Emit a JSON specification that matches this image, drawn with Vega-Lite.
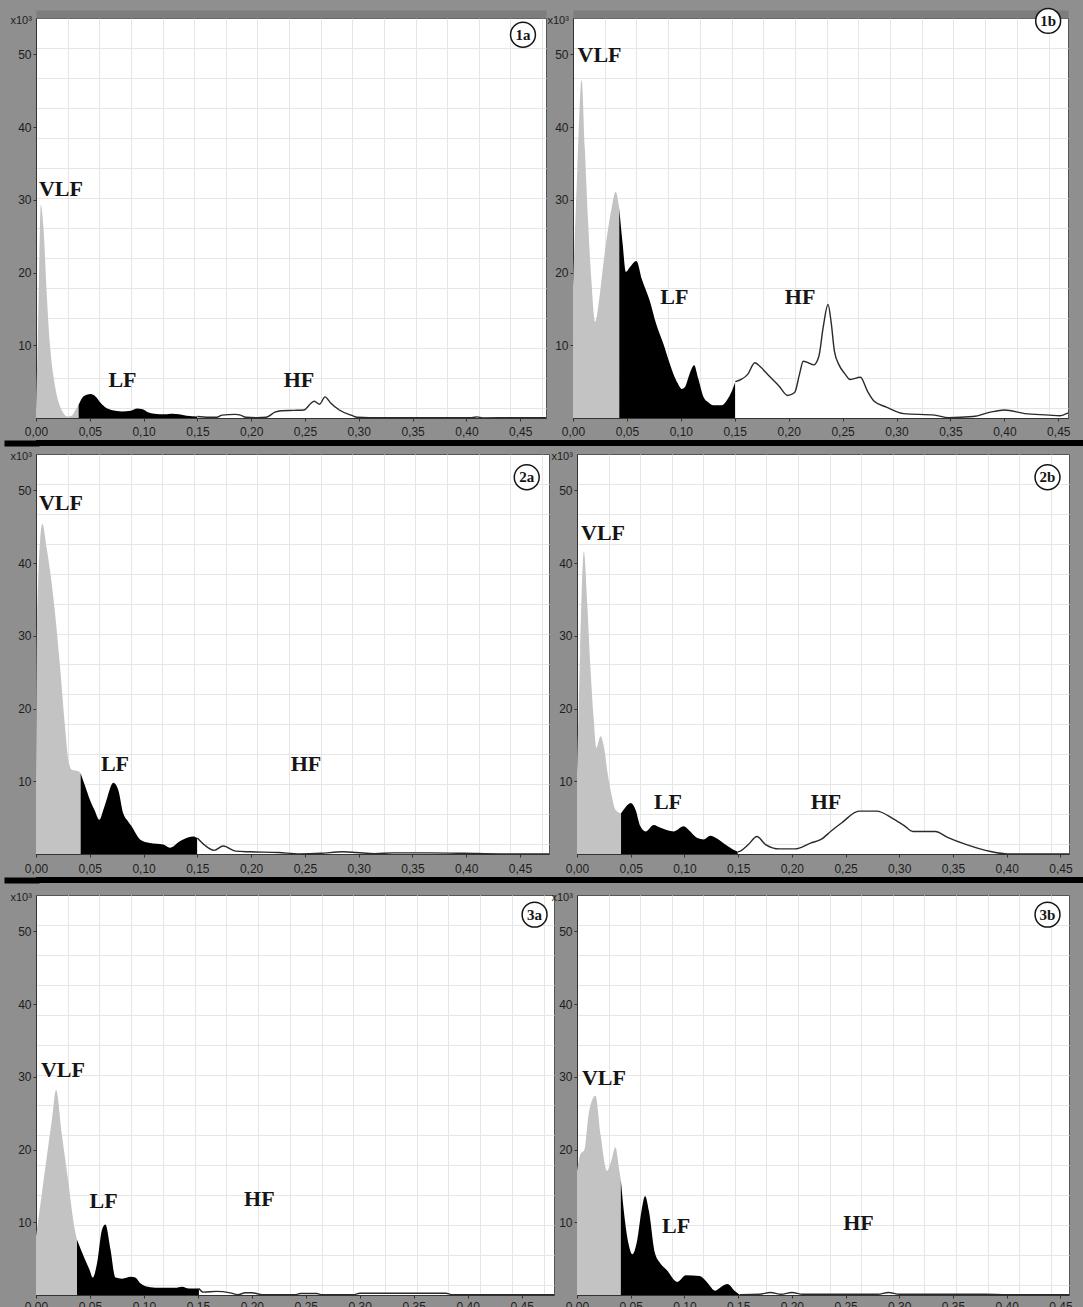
{
  "$schema": "https://vega.github.io/schema/vega-lite/v6.json",
  "background": "#8f8f8f",
  "padding": {"top": 4, "left": 0, "right": 0, "bottom": 0},
  "config": {
    "view": {"fill": "#ffffff", "stroke": "#555555", "strokeWidth": 1},
    "axis": {"labelFont": "Liberation Sans", "titleFont": "Liberation Sans"}
  },
  "datasets": {
    "p1a": [
      {"b":"VLF","f":0,"v":1},{"b":"VLF","f":0.002,"v":13},{"b":"VLF","f":0.0045,"v":29.3},{"b":"VLF","f":0.007,"v":26},{"b":"VLF","f":0.01,"v":17},{"b":"VLF","f":0.013,"v":10},{"b":"VLF","f":0.017,"v":5},{"b":"VLF","f":0.021,"v":2.2},{"b":"VLF","f":0.025,"v":0.8},{"b":"VLF","f":0.029,"v":0.2},{"b":"VLF","f":0.033,"v":0.3},{"b":"VLF","f":0.037,"v":1.2},{"b":"VLF","f":0.0396,"v":1.8},
      {"b":"LF","f":0.0396,"v":1.8},{"b":"LF","f":0.043,"v":2.8},{"b":"LF","f":0.047,"v":3.2},{"b":"LF","f":0.051,"v":3.3},{"b":"LF","f":0.055,"v":3.0},{"b":"LF","f":0.06,"v":2.1},{"b":"LF","f":0.065,"v":1.4},{"b":"LF","f":0.07,"v":1.1},{"b":"LF","f":0.08,"v":0.9},{"b":"LF","f":0.088,"v":1.0},{"b":"LF","f":0.094,"v":1.3},{"b":"LF","f":0.099,"v":1.2},{"b":"LF","f":0.104,"v":0.8},{"b":"LF","f":0.11,"v":0.6},{"b":"LF","f":0.12,"v":0.5},{"b":"LF","f":0.127,"v":0.6},{"b":"LF","f":0.133,"v":0.5},{"b":"LF","f":0.14,"v":0.3},{"b":"LF","f":0.15,"v":0.2},
      {"b":"HF","f":0.15,"v":0.2},{"b":"HF","f":0.16,"v":0.1},{"b":"HF","f":0.168,"v":0.1},{"b":"HF","f":0.173,"v":0.4},{"b":"HF","f":0.185,"v":0.5},{"b":"HF","f":0.19,"v":0.4},{"b":"HF","f":0.195,"v":0.1},{"b":"HF","f":0.205,"v":0.05},{"b":"HF","f":0.214,"v":0.1},{"b":"HF","f":0.222,"v":0.8},{"b":"HF","f":0.228,"v":1.0},{"b":"HF","f":0.24,"v":1.05},{"b":"HF","f":0.249,"v":1.1},{"b":"HF","f":0.2553,"v":2.0},{"b":"HF","f":0.2586,"v":2.3},{"b":"HF","f":0.2636,"v":1.9},{"b":"HF","f":0.2686,"v":2.9},{"b":"HF","f":0.2736,"v":2.1},{"b":"HF","f":0.2819,"v":1.1},{"b":"HF","f":0.2935,"v":0.35},{"b":"HF","f":0.2985,"v":0.1},{"b":"HF","f":0.31,"v":0.05},{"b":"HF","f":0.35,"v":0.05},{"b":"HF","f":0.38,"v":0.05},{"b":"HF","f":0.405,"v":0.05},{"b":"HF","f":0.41,"v":0.15},{"b":"HF","f":0.415,"v":0.02},{"b":"HF","f":0.44,"v":0.05},{"b":"HF","f":0.474,"v":0.05}
    ],
    "p1b": [
      {"b":"VLF","f":0,"v":18},{"b":"VLF","f":0.004,"v":34},{"b":"VLF","f":0.008,"v":46.5},{"b":"VLF","f":0.011,"v":37},{"b":"VLF","f":0.014,"v":27},{"b":"VLF","f":0.017,"v":19},{"b":"VLF","f":0.0205,"v":13.2},{"b":"VLF","f":0.024,"v":16},{"b":"VLF","f":0.028,"v":21},{"b":"VLF","f":0.032,"v":25.5},{"b":"VLF","f":0.036,"v":29},{"b":"VLF","f":0.0395,"v":31.1},{"b":"VLF","f":0.0429,"v":28.8},
      {"b":"LF","f":0.0429,"v":28.8},{"b":"LF","f":0.046,"v":24},{"b":"LF","f":0.049,"v":20.1},{"b":"LF","f":0.053,"v":20.8},{"b":"LF","f":0.0588,"v":21.6},{"b":"LF","f":0.064,"v":19},{"b":"LF","f":0.071,"v":16.2},{"b":"LF","f":0.077,"v":13},{"b":"LF","f":0.0838,"v":10.2},{"b":"LF","f":0.089,"v":7.8},{"b":"LF","f":0.093,"v":6.1},{"b":"LF","f":0.097,"v":4.8},{"b":"LF","f":0.1008,"v":4.0},{"b":"LF","f":0.104,"v":4.3},{"b":"LF","f":0.108,"v":6.0},{"b":"LF","f":0.1123,"v":7.25},{"b":"LF","f":0.116,"v":5.5},{"b":"LF","f":0.121,"v":2.9},{"b":"LF","f":0.126,"v":2.1},{"b":"LF","f":0.13,"v":1.75},{"b":"LF","f":0.138,"v":1.75},{"b":"LF","f":0.143,"v":2.5},{"b":"LF","f":0.147,"v":3.6},{"b":"LF","f":0.1505,"v":5.0},
      {"b":"HF","f":0.1505,"v":5.0},{"b":"HF","f":0.156,"v":5.3},{"b":"HF","f":0.162,"v":6.0},{"b":"HF","f":0.1686,"v":7.6},{"b":"HF","f":0.174,"v":7.0},{"b":"HF","f":0.181,"v":5.9},{"b":"HF","f":0.191,"v":4.4},{"b":"HF","f":0.199,"v":3.1},{"b":"HF","f":0.2055,"v":3.5},{"b":"HF","f":0.21,"v":6.0},{"b":"HF","f":0.2135,"v":7.8},{"b":"HF","f":0.218,"v":7.6},{"b":"HF","f":0.2231,"v":7.3},{"b":"HF","f":0.228,"v":8.5},{"b":"HF","f":0.232,"v":12.5},{"b":"HF","f":0.2365,"v":15.6},{"b":"HF","f":0.2395,"v":13},{"b":"HF","f":0.2424,"v":9.2},{"b":"HF","f":0.247,"v":7.2},{"b":"HF","f":0.252,"v":6.1},{"b":"HF","f":0.257,"v":5.3},{"b":"HF","f":0.2665,"v":5.6},{"b":"HF","f":0.273,"v":3.7},{"b":"HF","f":0.2793,"v":2.3},{"b":"HF","f":0.2906,"v":1.5},{"b":"HF","f":0.3067,"v":0.6},{"b":"HF","f":0.3355,"v":0.4},{"b":"HF","f":0.348,"v":0.05},{"b":"HF","f":0.371,"v":0.2},{"b":"HF","f":0.387,"v":0.8},{"b":"HF","f":0.4,"v":1.1},{"b":"HF","f":0.419,"v":0.6},{"b":"HF","f":0.4415,"v":0.4},{"b":"HF","f":0.451,"v":0.3},{"b":"HF","f":0.459,"v":0.7}
    ],
    "p2a": [
      {"b":"VLF","f":0,"v":10},{"b":"VLF","f":0.001,"v":32},{"b":"VLF","f":0.0059,"v":45.4},{"b":"VLF","f":0.01,"v":42},{"b":"VLF","f":0.013,"v":39},{"b":"VLF","f":0.0177,"v":33.1},{"b":"VLF","f":0.0223,"v":25.8},{"b":"VLF","f":0.027,"v":17.5},{"b":"VLF","f":0.03,"v":13},{"b":"VLF","f":0.0332,"v":11.6},{"b":"VLF","f":0.0393,"v":11.4},{"b":"VLF","f":0.0415,"v":11.1},
      {"b":"LF","f":0.0415,"v":11.1},{"b":"LF","f":0.046,"v":9.2},{"b":"LF","f":0.05,"v":7.5},{"b":"LF","f":0.0545,"v":6.0},{"b":"LF","f":0.0589,"v":4.7},{"b":"LF","f":0.0625,"v":6.0},{"b":"LF","f":0.0657,"v":7.5},{"b":"LF","f":0.0719,"v":9.8},{"b":"LF","f":0.0765,"v":8.8},{"b":"LF","f":0.081,"v":5.65},{"b":"LF","f":0.085,"v":4.6},{"b":"LF","f":0.0889,"v":3.8},{"b":"LF","f":0.0967,"v":2.0},{"b":"LF","f":0.106,"v":1.5},{"b":"LF","f":0.1183,"v":1.3},{"b":"LF","f":0.1245,"v":0.85},{"b":"LF","f":0.1338,"v":1.75},{"b":"LF","f":0.142,"v":2.3},{"b":"LF","f":0.146,"v":2.4},{"b":"LF","f":0.15,"v":2.2},
      {"b":"HF","f":0.15,"v":2.2},{"b":"HF","f":0.157,"v":1.2},{"b":"HF","f":0.1657,"v":0.5},{"b":"HF","f":0.174,"v":1.1},{"b":"HF","f":0.1856,"v":0.4},{"b":"HF","f":0.199,"v":0.3},{"b":"HF","f":0.2255,"v":0.2},{"b":"HF","f":0.245,"v":0.02},{"b":"HF","f":0.265,"v":0.1},{"b":"HF","f":0.285,"v":0.3},{"b":"HF","f":0.298,"v":0.2},{"b":"HF","f":0.315,"v":0.05},{"b":"HF","f":0.332,"v":0.15},{"b":"HF","f":0.365,"v":0.15},{"b":"HF","f":0.398,"v":0.1},{"b":"HF","f":0.431,"v":0.02},{"b":"HF","f":0.477,"v":0.02}
    ],
    "p2b": [
      {"b":"VLF","f":0,"v":11},{"b":"VLF","f":0.003,"v":28},{"b":"VLF","f":0.0064,"v":41.6},{"b":"VLF","f":0.0095,"v":34.5},{"b":"VLF","f":0.0126,"v":25.4},{"b":"VLF","f":0.0156,"v":18.5},{"b":"VLF","f":0.018,"v":14.6},{"b":"VLF","f":0.0219,"v":16.2},{"b":"VLF","f":0.025,"v":14.8},{"b":"VLF","f":0.028,"v":11.6},{"b":"VLF","f":0.0318,"v":8.4},{"b":"VLF","f":0.0358,"v":6.1},{"b":"VLF","f":0.041,"v":5.6},
      {"b":"LF","f":0.041,"v":5.6},{"b":"LF","f":0.045,"v":6.4},{"b":"LF","f":0.05,"v":7.0},{"b":"LF","f":0.0545,"v":6.1},{"b":"LF","f":0.059,"v":3.8},{"b":"LF","f":0.0638,"v":3.1},{"b":"LF","f":0.0715,"v":4.0},{"b":"LF","f":0.0778,"v":3.6},{"b":"LF","f":0.0902,"v":3.1},{"b":"LF","f":0.0994,"v":3.8},{"b":"LF","f":0.104,"v":3.3},{"b":"LF","f":0.112,"v":2.2},{"b":"LF","f":0.118,"v":2.0},{"b":"LF","f":0.124,"v":2.5},{"b":"LF","f":0.1306,"v":2.1},{"b":"LF","f":0.138,"v":1.3},{"b":"LF","f":0.1445,"v":0.7},{"b":"LF","f":0.1497,"v":0.3},
      {"b":"HF","f":0.1497,"v":0.3},{"b":"HF","f":0.1514,"v":0.35},{"b":"HF","f":0.1595,"v":1.3},{"b":"HF","f":0.1675,"v":2.4},{"b":"HF","f":0.1755,"v":1.3},{"b":"HF","f":0.1884,"v":0.7},{"b":"HF","f":0.203,"v":0.7},{"b":"HF","f":0.2174,"v":1.5},{"b":"HF","f":0.2272,"v":2.0},{"b":"HF","f":0.2369,"v":3.2},{"b":"HF","f":0.2465,"v":4.3},{"b":"HF","f":0.2626,"v":5.9},{"b":"HF","f":0.2788,"v":5.9},{"b":"HF","f":0.2949,"v":4.8},{"b":"HF","f":0.3046,"v":3.9},{"b":"HF","f":0.3126,"v":3.1},{"b":"HF","f":0.3335,"v":3.1},{"b":"HF","f":0.3449,"v":2.3},{"b":"HF","f":0.3626,"v":1.3},{"b":"HF","f":0.385,"v":0.35},{"b":"HF","f":0.401,"v":0.02},{"b":"HF","f":0.424,"v":0.02},{"b":"HF","f":0.458,"v":0.02}
    ],
    "p3a": [
      {"b":"VLF","f":0,"v":8},{"b":"VLF","f":0.005,"v":13.5},{"b":"VLF","f":0.01,"v":19},{"b":"VLF","f":0.015,"v":24.4},{"b":"VLF","f":0.0186,"v":28.2},{"b":"VLF","f":0.024,"v":22},{"b":"VLF","f":0.03,"v":15.5},{"b":"VLF","f":0.035,"v":9.8},{"b":"VLF","f":0.038,"v":7.6},
      {"b":"LF","f":0.038,"v":7.6},{"b":"LF","f":0.0442,"v":5.3},{"b":"LF","f":0.0495,"v":3.5},{"b":"LF","f":0.0526,"v":2.4},{"b":"LF","f":0.0566,"v":4.4},{"b":"LF","f":0.0612,"v":9.0},{"b":"LF","f":0.0643,"v":9.7},{"b":"LF","f":0.069,"v":6.3},{"b":"LF","f":0.0736,"v":2.4},{"b":"LF","f":0.0798,"v":2.25},{"b":"LF","f":0.088,"v":2.5},{"b":"LF","f":0.092,"v":2.4},{"b":"LF","f":0.0967,"v":1.6},{"b":"LF","f":0.1014,"v":1.2},{"b":"LF","f":0.1107,"v":1.0},{"b":"LF","f":0.129,"v":1.0},{"b":"LF","f":0.1354,"v":1.15},{"b":"LF","f":0.1416,"v":0.9},{"b":"LF","f":0.151,"v":0.9},
      {"b":"HF","f":0.151,"v":0.9},{"b":"HF","f":0.155,"v":0.4},{"b":"HF","f":0.167,"v":0.5},{"b":"HF","f":0.18,"v":0.3},{"b":"HF","f":0.187,"v":0.05},{"b":"HF","f":0.194,"v":0.3},{"b":"HF","f":0.2,"v":0.3},{"b":"HF","f":0.21,"v":0.05},{"b":"HF","f":0.24,"v":0.05},{"b":"HF","f":0.245,"v":0.2},{"b":"HF","f":0.26,"v":0.2},{"b":"HF","f":0.265,"v":0.05},{"b":"HF","f":0.295,"v":0.05},{"b":"HF","f":0.3,"v":0.25},{"b":"HF","f":0.38,"v":0.25},{"b":"HF","f":0.385,"v":0.05},{"b":"HF","f":0.48,"v":0.05}
    ],
    "p3b": [
      {"b":"VLF","f":0,"v":17},{"b":"VLF","f":0.003,"v":19.3},{"b":"VLF","f":0.007,"v":20},{"b":"VLF","f":0.011,"v":25},{"b":"VLF","f":0.0172,"v":27.4},{"b":"VLF","f":0.022,"v":22},{"b":"VLF","f":0.028,"v":17.1},{"b":"VLF","f":0.032,"v":18.5},{"b":"VLF","f":0.0358,"v":20.3},{"b":"VLF","f":0.039,"v":17.5},{"b":"VLF","f":0.0408,"v":15.8},
      {"b":"LF","f":0.0408,"v":15.8},{"b":"LF","f":0.044,"v":11},{"b":"LF","f":0.048,"v":7},{"b":"LF","f":0.0515,"v":5.6},{"b":"LF","f":0.056,"v":7.5},{"b":"LF","f":0.06,"v":11.5},{"b":"LF","f":0.0634,"v":13.6},{"b":"LF","f":0.067,"v":11.5},{"b":"LF","f":0.0725,"v":5.8},{"b":"LF","f":0.0773,"v":4.4},{"b":"LF","f":0.0837,"v":3.4},{"b":"LF","f":0.0934,"v":1.8},{"b":"LF","f":0.1014,"v":2.7},{"b":"LF","f":0.1143,"v":2.6},{"b":"LF","f":0.1208,"v":1.8},{"b":"LF","f":0.1288,"v":0.6},{"b":"LF","f":0.135,"v":1.2},{"b":"LF","f":0.14,"v":1.5},{"b":"LF","f":0.1466,"v":0.6},{"b":"LF","f":0.1514,"v":0.05},
      {"b":"HF","f":0.1514,"v":0.05},{"b":"HF","f":0.17,"v":0.1},{"b":"HF","f":0.18,"v":0.35},{"b":"HF","f":0.19,"v":0.1},{"b":"HF","f":0.2,"v":0.35},{"b":"HF","f":0.21,"v":0.1},{"b":"HF","f":0.25,"v":0.1},{"b":"HF","f":0.28,"v":0.1},{"b":"HF","f":0.29,"v":0.35},{"b":"HF","f":0.3,"v":0.1},{"b":"HF","f":0.38,"v":0.1},{"b":"HF","f":0.4,"v":0.05},{"b":"HF","f":0.458,"v":0.05}
    ],
    "lab": [
      {"p":"1a","k":"band","t":"VLF","x":0.0232,"y":31.5},{"p":"1a","k":"band","t":"LF","x":0.0804,"y":5.2},{"p":"1a","k":"band","t":"HF","x":0.2444,"y":5.2},{"p":"1a","k":"id","t":"1a","x":0.4526,"y":52.7},
      {"p":"1b","k":"band","t":"VLF","x":0.0246,"y":49.9},{"p":"1b","k":"band","t":"LF","x":0.094,"y":16.7},{"p":"1b","k":"band","t":"HF","x":0.2106,"y":16.7},{"p":"1b","k":"id","t":"1b","x":0.4406,"y":54.6},
      {"p":"2a","k":"band","t":"VLF","x":0.0232,"y":48.2},{"p":"2a","k":"band","t":"LF","x":0.0734,"y":12.4},{"p":"2a","k":"band","t":"HF","x":0.251,"y":12.4},{"p":"2a","k":"id","t":"2a","x":0.4563,"y":51.8},
      {"p":"2b","k":"band","t":"VLF","x":0.0242,"y":44.1},{"p":"2b","k":"band","t":"LF","x":0.0847,"y":7.2},{"p":"2b","k":"band","t":"HF","x":0.2318,"y":7.2},{"p":"2b","k":"id","t":"2b","x":0.438,"y":51.8},
      {"p":"3a","k":"band","t":"VLF","x":0.025,"y":31},{"p":"3a","k":"band","t":"LF","x":0.0626,"y":12.9},{"p":"3a","k":"band","t":"HF","x":0.207,"y":13.2},{"p":"3a","k":"id","t":"3a","x":0.462,"y":52.3},
      {"p":"3b","k":"band","t":"VLF","x":0.0251,"y":29.9},{"p":"3b","k":"band","t":"LF","x":0.0922,"y":9.5},{"p":"3b","k":"band","t":"HF","x":0.262,"y":9.9},{"p":"3b","k":"id","t":"3b","x":0.438,"y":52.3}
    ]
  },
  "columns": 1,
  "align": "none",
  "spacing": 0,
  "concat": [
    {
      "hconcat": [
        {
          "width": 510, "height": 400, "data": {"name": "p1a"},
          "resolve": {"axis": {"x": "independent", "y": "independent"}},
          "layer": [
            {"transform": [{"filter": "datum.b === 'VLF'"}], "mark": {"type": "area", "color": "#c3c3c3", "interpolate": "monotone"},
             "encoding": {"x": {"field": "f", "type": "quantitative", "scale": {"domain": [0, 0.474], "nice": false, "zero": false}, "axis": {"orient": "bottom", "values": [0.0294,0.0588,0.0882,0.1176,0.147,0.1764,0.2058,0.2352,0.2646,0.294,0.3234,0.3528,0.3822,0.4116,0.441,0.4704], "grid": true, "gridColor": "#e6e6e6", "labels": false, "ticks": false, "domain": false, "title": null}},
                          "y": {"field": "v", "type": "quantitative", "scale": {"domain": [0, 55], "nice": false}, "axis": {"orient": "left", "values": [1.375,5.5,9.625,13.75,17.875,22,26.125,30.25,34.375,38.5,42.625,46.75,50.875], "grid": true, "gridColor": "#e6e6e6", "labels": false, "ticks": false, "domain": false, "title": ".", "titleColor": "#8f8f8f", "titleX": -35, "titleY": -10, "titleAngle": 0, "titleAlign": "left", "titleBaseline": "top", "titleFontSize": 6}}}},
            {"transform": [{"filter": "datum.b === 'LF'"}], "mark": {"type": "area", "color": "#000000", "interpolate": "monotone"},
             "encoding": {"x": {"field": "f", "type": "quantitative", "scale": {"domain": [0, 0.474], "nice": false, "zero": false}, "axis": {"orient": "bottom", "values": [0,0.05,0.1,0.15,0.2,0.25,0.3,0.35,0.4,0.45], "labelExpr": "replace(format(datum.value, '.2f'), '.', ',')", "title": null, "grid": false, "domainColor": "#333333", "tickSize": 3, "tickColor": "#333333", "labelPadding": 5, "labelFontSize": 12, "labelColor": "#1e1e1e", "labelFlush": false, "labelOverlap": false}},
                          "y": {"field": "v", "type": "quantitative", "scale": {"domain": [0, 55], "nice": false}, "axis": {"orient": "left", "values": [10,20,30,40,50], "title": "x10³", "titleAngle": 0, "titleAlign": "left", "titleBaseline": "alphabetic", "titleX": -26, "titleY": 5, "titleFontSize": 11, "titleFontWeight": "normal", "titleColor": "#1e1e1e", "grid": false, "domainColor": "#333333", "tickSize": 3, "tickColor": "#333333", "labelPadding": 2, "labelFontSize": 12, "labelColor": "#1e1e1e"}}}},
            {"transform": [{"filter": "datum.b === 'HF'"}], "mark": {"type": "area", "color": "#ffffff", "interpolate": "monotone"},
             "encoding": {"x": {"field": "f", "type": "quantitative", "scale": {"domain": [0, 0.474], "nice": false, "zero": false}, "axis": {"orient": "top", "grid": false, "labels": false, "ticks": false, "domain": true, "domainColor": "#7d7d7d", "domainWidth": 8, "offset": 4, "title": null}},
                          "y": {"field": "v", "type": "quantitative", "scale": {"domain": [0, 55], "nice": false}, "axis": null}}},
            {"transform": [{"filter": "datum.b === 'HF'"}], "mark": {"type": "line", "color": "#2a2a2a", "strokeWidth": 1.4, "interpolate": "monotone"},
             "encoding": {"x": {"field": "f", "type": "quantitative", "scale": {"domain": [0, 0.474], "nice": false, "zero": false}, "axis": null},
                          "y": {"field": "v", "type": "quantitative", "scale": {"domain": [0, 55], "nice": false}, "axis": null}}},
            {"data": {"name": "lab"}, "transform": [{"filter": "datum.p === '1a' && datum.k === 'band'"}], "mark": {"type": "text", "font": "Liberation Serif", "fontWeight": "bold", "fontSize": 22, "color": "#151515", "align": "center", "baseline": "middle"},
             "encoding": {"x": {"field": "x", "type": "quantitative", "scale": {"domain": [0, 0.474], "nice": false, "zero": false}, "axis": null}, "y": {"field": "y", "type": "quantitative", "scale": {"domain": [0, 55], "nice": false}, "axis": null}, "text": {"field": "t"}}},
            {"data": {"name": "lab"}, "transform": [{"filter": "datum.p === '1a' && datum.k === 'id'"}], "mark": {"type": "point", "shape": "circle", "size": 620, "filled": true, "fill": "#ffffff", "stroke": "#151515", "strokeWidth": 1.5, "opacity": 1},
             "encoding": {"x": {"field": "x", "type": "quantitative", "scale": {"domain": [0, 0.474], "nice": false, "zero": false}, "axis": null}, "y": {"field": "y", "type": "quantitative", "scale": {"domain": [0, 55], "nice": false}, "axis": null}}},
            {"data": {"name": "lab"}, "transform": [{"filter": "datum.p === '1a' && datum.k === 'id'"}], "mark": {"type": "text", "font": "Liberation Serif", "fontWeight": "bold", "fontSize": 15, "color": "#151515", "align": "center", "baseline": "middle"},
             "encoding": {"x": {"field": "x", "type": "quantitative", "scale": {"domain": [0, 0.474], "nice": false, "zero": false}, "axis": null}, "y": {"field": "y", "type": "quantitative", "scale": {"domain": [0, 55], "nice": false}, "axis": null}, "text": {"field": "t"}}}
          ]
        },
        {
          "width": 495, "height": 400, "data": {"name": "p1b"},
          "resolve": {"axis": {"x": "independent", "y": "independent"}},
          "layer": [
            {"transform": [{"filter": "datum.b === 'VLF'"}], "mark": {"type": "area", "color": "#c3c3c3", "interpolate": "monotone"},
             "encoding": {"x": {"field": "f", "type": "quantitative", "scale": {"domain": [0, 0.459], "nice": false, "zero": false}, "axis": {"orient": "bottom", "values": [0.0294,0.0588,0.0882,0.1176,0.147,0.1764,0.2058,0.2352,0.2646,0.294,0.3234,0.3528,0.3822,0.4116,0.441], "grid": true, "gridColor": "#e6e6e6", "labels": false, "ticks": false, "domain": false, "title": null}},
                          "y": {"field": "v", "type": "quantitative", "scale": {"domain": [0, 55], "nice": false}, "axis": {"orient": "left", "values": [1.375,5.5,9.625,13.75,17.875,22,26.125,30.25,34.375,38.5,42.625,46.75,50.875], "grid": true, "gridColor": "#e6e6e6", "labels": false, "ticks": false, "domain": false, "title": null}}}},
            {"transform": [{"filter": "datum.b === 'LF'"}], "mark": {"type": "area", "color": "#000000", "interpolate": "monotone"},
             "encoding": {"x": {"field": "f", "type": "quantitative", "scale": {"domain": [0, 0.459], "nice": false, "zero": false}, "axis": {"orient": "bottom", "values": [0,0.05,0.1,0.15,0.2,0.25,0.3,0.35,0.4,0.45], "labelExpr": "replace(format(datum.value, '.2f'), '.', ',')", "title": null, "grid": false, "domainColor": "#333333", "tickSize": 3, "tickColor": "#333333", "labelPadding": 5, "labelFontSize": 12, "labelColor": "#1e1e1e", "labelFlush": false, "labelOverlap": false}},
                          "y": {"field": "v", "type": "quantitative", "scale": {"domain": [0, 55], "nice": false}, "axis": {"orient": "left", "values": [10,20,30,40,50], "title": "x10³", "titleAngle": 0, "titleAlign": "left", "titleBaseline": "alphabetic", "titleX": -26, "titleY": 5, "titleFontSize": 11, "titleFontWeight": "normal", "titleColor": "#1e1e1e", "grid": false, "domainColor": "#333333", "tickSize": 3, "tickColor": "#333333", "labelPadding": 2, "labelFontSize": 12, "labelColor": "#1e1e1e"}}}},
            {"transform": [{"filter": "datum.b === 'HF'"}], "mark": {"type": "area", "color": "#ffffff", "interpolate": "monotone"},
             "encoding": {"x": {"field": "f", "type": "quantitative", "scale": {"domain": [0, 0.459], "nice": false, "zero": false}, "axis": {"orient": "top", "grid": false, "labels": false, "ticks": false, "domain": true, "domainColor": "#7d7d7d", "domainWidth": 8, "offset": 4, "title": null}},
                          "y": {"field": "v", "type": "quantitative", "scale": {"domain": [0, 55], "nice": false}, "axis": null}}},
            {"transform": [{"filter": "datum.b === 'HF'"}], "mark": {"type": "line", "color": "#2a2a2a", "strokeWidth": 1.4, "interpolate": "monotone"},
             "encoding": {"x": {"field": "f", "type": "quantitative", "scale": {"domain": [0, 0.459], "nice": false, "zero": false}, "axis": null},
                          "y": {"field": "v", "type": "quantitative", "scale": {"domain": [0, 55], "nice": false}, "axis": null}}},
            {"data": {"name": "lab"}, "transform": [{"filter": "datum.p === '1b' && datum.k === 'band'"}], "mark": {"type": "text", "font": "Liberation Serif", "fontWeight": "bold", "fontSize": 22, "color": "#151515", "align": "center", "baseline": "middle"},
             "encoding": {"x": {"field": "x", "type": "quantitative", "scale": {"domain": [0, 0.459], "nice": false, "zero": false}, "axis": null}, "y": {"field": "y", "type": "quantitative", "scale": {"domain": [0, 55], "nice": false}, "axis": null}, "text": {"field": "t"}}},
            {"data": {"name": "lab"}, "transform": [{"filter": "datum.p === '1b' && datum.k === 'id'"}], "mark": {"type": "point", "shape": "circle", "size": 620, "filled": true, "fill": "#ffffff", "stroke": "#151515", "strokeWidth": 1.5, "opacity": 1},
             "encoding": {"x": {"field": "x", "type": "quantitative", "scale": {"domain": [0, 0.459], "nice": false, "zero": false}, "axis": null}, "y": {"field": "y", "type": "quantitative", "scale": {"domain": [0, 55], "nice": false}, "axis": null}}},
            {"data": {"name": "lab"}, "transform": [{"filter": "datum.p === '1b' && datum.k === 'id'"}], "mark": {"type": "text", "font": "Liberation Serif", "fontWeight": "bold", "fontSize": 15, "color": "#151515", "align": "center", "baseline": "middle"},
             "encoding": {"x": {"field": "x", "type": "quantitative", "scale": {"domain": [0, 0.459], "nice": false, "zero": false}, "axis": null}, "y": {"field": "y", "type": "quantitative", "scale": {"domain": [0, 55], "nice": false}, "axis": null}, "text": {"field": "t"}}}
          ]
        }
      ],
      "spacing": 27, "bounds": "flush"
    },
    {"width": 1048, "height": 6, "data": {"values": [{"a": 0.5}]}, "mark": {"type": "point", "opacity": 0}, "view": {"fill": "#000000", "stroke": null},
     "encoding": {"y": {"field": "a", "type": "quantitative", "scale": {"domain": [0, 1], "nice": false}, "axis": {"orient": "left", "values": [0.5], "labels": false, "domain": false, "grid": false, "title": null, "ticks": true, "tickSize": 29, "tickWidth": 6, "tickColor": "#000000", "tickCap": "square"}}}},
    {
      "hconcat": [
        {
          "width": 513, "height": 400, "data": {"name": "p2a"},
          "resolve": {"axis": {"x": "independent", "y": "independent"}},
          "layer": [
            {"transform": [{"filter": "datum.b === 'VLF'"}], "mark": {"type": "area", "color": "#c3c3c3", "interpolate": "monotone"},
             "encoding": {"x": {"field": "f", "type": "quantitative", "scale": {"domain": [0, 0.477], "nice": false, "zero": false}, "axis": {"orient": "bottom", "values": [0.0294,0.0588,0.0882,0.1176,0.147,0.1764,0.2058,0.2352,0.2646,0.294,0.3234,0.3528,0.3822,0.4116,0.441,0.4704], "grid": true, "gridColor": "#e6e6e6", "labels": false, "ticks": false, "domain": false, "title": null}},
                          "y": {"field": "v", "type": "quantitative", "scale": {"domain": [0, 55], "nice": false}, "axis": {"orient": "left", "values": [1.375,5.5,9.625,13.75,17.875,22,26.125,30.25,34.375,38.5,42.625,46.75,50.875], "grid": true, "gridColor": "#e6e6e6", "labels": false, "ticks": false, "domain": false, "title": ".", "titleColor": "#8f8f8f", "titleX": -35, "titleY": -5, "titleAngle": 0, "titleAlign": "left", "titleBaseline": "top", "titleFontSize": 6}}}},
            {"transform": [{"filter": "datum.b === 'LF'"}], "mark": {"type": "area", "color": "#000000", "interpolate": "monotone"},
             "encoding": {"x": {"field": "f", "type": "quantitative", "scale": {"domain": [0, 0.477], "nice": false, "zero": false}, "axis": {"orient": "bottom", "values": [0,0.05,0.1,0.15,0.2,0.25,0.3,0.35,0.4,0.45], "labelExpr": "replace(format(datum.value, '.2f'), '.', ',')", "title": null, "grid": false, "domainColor": "#333333", "tickSize": 3, "tickColor": "#333333", "labelPadding": 6, "labelFontSize": 12, "labelColor": "#1e1e1e", "labelFlush": false, "labelOverlap": false}},
                          "y": {"field": "v", "type": "quantitative", "scale": {"domain": [0, 55], "nice": false}, "axis": {"orient": "left", "values": [10,20,30,40,50], "title": "x10³", "titleAngle": 0, "titleAlign": "left", "titleBaseline": "alphabetic", "titleX": -26, "titleY": 5, "titleFontSize": 11, "titleFontWeight": "normal", "titleColor": "#1e1e1e", "grid": false, "domainColor": "#333333", "tickSize": 3, "tickColor": "#333333", "labelPadding": 2, "labelFontSize": 12, "labelColor": "#1e1e1e"}}}},
            {"transform": [{"filter": "datum.b === 'HF'"}], "mark": {"type": "area", "color": "#ffffff", "interpolate": "monotone"},
             "encoding": {"x": {"field": "f", "type": "quantitative", "scale": {"domain": [0, 0.477], "nice": false, "zero": false}, "axis": null},
                          "y": {"field": "v", "type": "quantitative", "scale": {"domain": [0, 55], "nice": false}, "axis": null}}},
            {"transform": [{"filter": "datum.b === 'HF'"}], "mark": {"type": "line", "color": "#2a2a2a", "strokeWidth": 1.4, "interpolate": "monotone"},
             "encoding": {"x": {"field": "f", "type": "quantitative", "scale": {"domain": [0, 0.477], "nice": false, "zero": false}, "axis": null},
                          "y": {"field": "v", "type": "quantitative", "scale": {"domain": [0, 55], "nice": false}, "axis": null}}},
            {"data": {"name": "lab"}, "transform": [{"filter": "datum.p === '2a' && datum.k === 'band'"}], "mark": {"type": "text", "font": "Liberation Serif", "fontWeight": "bold", "fontSize": 22, "color": "#151515", "align": "center", "baseline": "middle"},
             "encoding": {"x": {"field": "x", "type": "quantitative", "scale": {"domain": [0, 0.477], "nice": false, "zero": false}, "axis": null}, "y": {"field": "y", "type": "quantitative", "scale": {"domain": [0, 55], "nice": false}, "axis": null}, "text": {"field": "t"}}},
            {"data": {"name": "lab"}, "transform": [{"filter": "datum.p === '2a' && datum.k === 'id'"}], "mark": {"type": "point", "shape": "circle", "size": 620, "filled": true, "fill": "#ffffff", "stroke": "#151515", "strokeWidth": 1.5, "opacity": 1},
             "encoding": {"x": {"field": "x", "type": "quantitative", "scale": {"domain": [0, 0.477], "nice": false, "zero": false}, "axis": null}, "y": {"field": "y", "type": "quantitative", "scale": {"domain": [0, 55], "nice": false}, "axis": null}}},
            {"data": {"name": "lab"}, "transform": [{"filter": "datum.p === '2a' && datum.k === 'id'"}], "mark": {"type": "text", "font": "Liberation Serif", "fontWeight": "bold", "fontSize": 15, "color": "#151515", "align": "center", "baseline": "middle"},
             "encoding": {"x": {"field": "x", "type": "quantitative", "scale": {"domain": [0, 0.477], "nice": false, "zero": false}, "axis": null}, "y": {"field": "y", "type": "quantitative", "scale": {"domain": [0, 55], "nice": false}, "axis": null}, "text": {"field": "t"}}}
          ]
        },
        {
          "width": 492, "height": 400, "data": {"name": "p2b"},
          "resolve": {"axis": {"x": "independent", "y": "independent"}},
          "layer": [
            {"transform": [{"filter": "datum.b === 'VLF'"}], "mark": {"type": "area", "color": "#c3c3c3", "interpolate": "monotone"},
             "encoding": {"x": {"field": "f", "type": "quantitative", "scale": {"domain": [0, 0.458], "nice": false, "zero": false}, "axis": {"orient": "bottom", "values": [0.0294,0.0588,0.0882,0.1176,0.147,0.1764,0.2058,0.2352,0.2646,0.294,0.3234,0.3528,0.3822,0.4116,0.441], "grid": true, "gridColor": "#e6e6e6", "labels": false, "ticks": false, "domain": false, "title": null}},
                          "y": {"field": "v", "type": "quantitative", "scale": {"domain": [0, 55], "nice": false}, "axis": {"orient": "left", "values": [1.375,5.5,9.625,13.75,17.875,22,26.125,30.25,34.375,38.5,42.625,46.75,50.875], "grid": true, "gridColor": "#e6e6e6", "labels": false, "ticks": false, "domain": false, "title": null}}}},
            {"transform": [{"filter": "datum.b === 'LF'"}], "mark": {"type": "area", "color": "#000000", "interpolate": "monotone"},
             "encoding": {"x": {"field": "f", "type": "quantitative", "scale": {"domain": [0, 0.458], "nice": false, "zero": false}, "axis": {"orient": "bottom", "values": [0,0.05,0.1,0.15,0.2,0.25,0.3,0.35,0.4,0.45], "labelExpr": "replace(format(datum.value, '.2f'), '.', ',')", "title": null, "grid": false, "domainColor": "#333333", "tickSize": 3, "tickColor": "#333333", "labelPadding": 6, "labelFontSize": 12, "labelColor": "#1e1e1e", "labelFlush": false, "labelOverlap": false}},
                          "y": {"field": "v", "type": "quantitative", "scale": {"domain": [0, 55], "nice": false}, "axis": {"orient": "left", "values": [10,20,30,40,50], "title": "x10³", "titleAngle": 0, "titleAlign": "left", "titleBaseline": "alphabetic", "titleX": -26, "titleY": 5, "titleFontSize": 11, "titleFontWeight": "normal", "titleColor": "#1e1e1e", "grid": false, "domainColor": "#333333", "tickSize": 3, "tickColor": "#333333", "labelPadding": 2, "labelFontSize": 12, "labelColor": "#1e1e1e"}}}},
            {"transform": [{"filter": "datum.b === 'HF'"}], "mark": {"type": "area", "color": "#ffffff", "interpolate": "monotone"},
             "encoding": {"x": {"field": "f", "type": "quantitative", "scale": {"domain": [0, 0.458], "nice": false, "zero": false}, "axis": null},
                          "y": {"field": "v", "type": "quantitative", "scale": {"domain": [0, 55], "nice": false}, "axis": null}}},
            {"transform": [{"filter": "datum.b === 'HF'"}], "mark": {"type": "line", "color": "#2a2a2a", "strokeWidth": 1.4, "interpolate": "monotone"},
             "encoding": {"x": {"field": "f", "type": "quantitative", "scale": {"domain": [0, 0.458], "nice": false, "zero": false}, "axis": null},
                          "y": {"field": "v", "type": "quantitative", "scale": {"domain": [0, 55], "nice": false}, "axis": null}}},
            {"data": {"name": "lab"}, "transform": [{"filter": "datum.p === '2b' && datum.k === 'band'"}], "mark": {"type": "text", "font": "Liberation Serif", "fontWeight": "bold", "fontSize": 22, "color": "#151515", "align": "center", "baseline": "middle"},
             "encoding": {"x": {"field": "x", "type": "quantitative", "scale": {"domain": [0, 0.458], "nice": false, "zero": false}, "axis": null}, "y": {"field": "y", "type": "quantitative", "scale": {"domain": [0, 55], "nice": false}, "axis": null}, "text": {"field": "t"}}},
            {"data": {"name": "lab"}, "transform": [{"filter": "datum.p === '2b' && datum.k === 'id'"}], "mark": {"type": "point", "shape": "circle", "size": 620, "filled": true, "fill": "#ffffff", "stroke": "#151515", "strokeWidth": 1.5, "opacity": 1},
             "encoding": {"x": {"field": "x", "type": "quantitative", "scale": {"domain": [0, 0.458], "nice": false, "zero": false}, "axis": null}, "y": {"field": "y", "type": "quantitative", "scale": {"domain": [0, 55], "nice": false}, "axis": null}}},
            {"data": {"name": "lab"}, "transform": [{"filter": "datum.p === '2b' && datum.k === 'id'"}], "mark": {"type": "text", "font": "Liberation Serif", "fontWeight": "bold", "fontSize": 15, "color": "#151515", "align": "center", "baseline": "middle"},
             "encoding": {"x": {"field": "x", "type": "quantitative", "scale": {"domain": [0, 0.458], "nice": false, "zero": false}, "axis": null}, "y": {"field": "y", "type": "quantitative", "scale": {"domain": [0, 55], "nice": false}, "axis": null}, "text": {"field": "t"}}}
          ]
        }
      ],
      "spacing": 28, "bounds": "flush"
    },
    {"width": 1048, "height": 6, "data": {"values": [{"a": 0.5}]}, "mark": {"type": "point", "opacity": 0}, "view": {"fill": "#000000", "stroke": null},
     "encoding": {"y": {"field": "a", "type": "quantitative", "scale": {"domain": [0, 1], "nice": false}, "axis": {"orient": "left", "values": [0.5], "labels": false, "domain": false, "grid": false, "title": null, "ticks": true, "tickSize": 29, "tickWidth": 6, "tickColor": "#000000", "tickCap": "square"}}}},
    {
      "hconcat": [
        {
          "width": 518, "height": 400, "data": {"name": "p3a"},
          "resolve": {"axis": {"x": "independent", "y": "independent"}},
          "layer": [
            {"transform": [{"filter": "datum.b === 'VLF'"}], "mark": {"type": "area", "color": "#c3c3c3", "interpolate": "monotone"},
             "encoding": {"x": {"field": "f", "type": "quantitative", "scale": {"domain": [0, 0.48], "nice": false, "zero": false}, "axis": {"orient": "bottom", "values": [0.0294,0.0588,0.0882,0.1176,0.147,0.1764,0.2058,0.2352,0.2646,0.294,0.3234,0.3528,0.3822,0.4116,0.441,0.4704], "grid": true, "gridColor": "#e6e6e6", "labels": false, "ticks": false, "domain": false, "title": null}},
                          "y": {"field": "v", "type": "quantitative", "scale": {"domain": [0, 55], "nice": false}, "axis": {"orient": "left", "values": [1.375,5.5,9.625,13.75,17.875,22,26.125,30.25,34.375,38.5,42.625,46.75,50.875], "grid": true, "gridColor": "#e6e6e6", "labels": false, "ticks": false, "domain": false, "title": ".", "titleColor": "#8f8f8f", "titleX": -35, "titleY": -9, "titleAngle": 0, "titleAlign": "left", "titleBaseline": "top", "titleFontSize": 6}}}},
            {"transform": [{"filter": "datum.b === 'LF'"}], "mark": {"type": "area", "color": "#000000", "interpolate": "monotone"},
             "encoding": {"x": {"field": "f", "type": "quantitative", "scale": {"domain": [0, 0.48], "nice": false, "zero": false}, "axis": {"orient": "bottom", "values": [0,0.05,0.1,0.15,0.2,0.25,0.3,0.35,0.4,0.45], "labelExpr": "replace(format(datum.value, '.2f'), '.', ',')", "title": null, "grid": false, "domainColor": "#333333", "tickSize": 3, "tickColor": "#333333", "labelPadding": 3, "labelFontSize": 12, "labelColor": "#1e1e1e", "labelFlush": false, "labelOverlap": false}},
                          "y": {"field": "v", "type": "quantitative", "scale": {"domain": [0, 55], "nice": false}, "axis": {"orient": "left", "values": [10,20,30,40,50], "title": "x10³", "titleAngle": 0, "titleAlign": "left", "titleBaseline": "alphabetic", "titleX": -26, "titleY": 5, "titleFontSize": 11, "titleFontWeight": "normal", "titleColor": "#1e1e1e", "grid": false, "domainColor": "#333333", "tickSize": 3, "tickColor": "#333333", "labelPadding": 2, "labelFontSize": 12, "labelColor": "#1e1e1e"}}}},
            {"transform": [{"filter": "datum.b === 'HF'"}], "mark": {"type": "area", "color": "#ffffff", "interpolate": "monotone"},
             "encoding": {"x": {"field": "f", "type": "quantitative", "scale": {"domain": [0, 0.48], "nice": false, "zero": false}, "axis": null},
                          "y": {"field": "v", "type": "quantitative", "scale": {"domain": [0, 55], "nice": false}, "axis": null}}},
            {"transform": [{"filter": "datum.b === 'HF'"}], "mark": {"type": "line", "color": "#2a2a2a", "strokeWidth": 1.4, "interpolate": "monotone"},
             "encoding": {"x": {"field": "f", "type": "quantitative", "scale": {"domain": [0, 0.48], "nice": false, "zero": false}, "axis": null},
                          "y": {"field": "v", "type": "quantitative", "scale": {"domain": [0, 55], "nice": false}, "axis": null}}},
            {"data": {"name": "lab"}, "transform": [{"filter": "datum.p === '3a' && datum.k === 'band'"}], "mark": {"type": "text", "font": "Liberation Serif", "fontWeight": "bold", "fontSize": 22, "color": "#151515", "align": "center", "baseline": "middle"},
             "encoding": {"x": {"field": "x", "type": "quantitative", "scale": {"domain": [0, 0.48], "nice": false, "zero": false}, "axis": null}, "y": {"field": "y", "type": "quantitative", "scale": {"domain": [0, 55], "nice": false}, "axis": null}, "text": {"field": "t"}}},
            {"data": {"name": "lab"}, "transform": [{"filter": "datum.p === '3a' && datum.k === 'id'"}], "mark": {"type": "point", "shape": "circle", "size": 620, "filled": true, "fill": "#ffffff", "stroke": "#151515", "strokeWidth": 1.5, "opacity": 1},
             "encoding": {"x": {"field": "x", "type": "quantitative", "scale": {"domain": [0, 0.48], "nice": false, "zero": false}, "axis": null}, "y": {"field": "y", "type": "quantitative", "scale": {"domain": [0, 55], "nice": false}, "axis": null}}},
            {"data": {"name": "lab"}, "transform": [{"filter": "datum.p === '3a' && datum.k === 'id'"}], "mark": {"type": "text", "font": "Liberation Serif", "fontWeight": "bold", "fontSize": 15, "color": "#151515", "align": "center", "baseline": "middle"},
             "encoding": {"x": {"field": "x", "type": "quantitative", "scale": {"domain": [0, 0.48], "nice": false, "zero": false}, "axis": null}, "y": {"field": "y", "type": "quantitative", "scale": {"domain": [0, 55], "nice": false}, "axis": null}, "text": {"field": "t"}}}
          ]
        },
        {
          "width": 492, "height": 400, "data": {"name": "p3b"},
          "resolve": {"axis": {"x": "independent", "y": "independent"}},
          "layer": [
            {"transform": [{"filter": "datum.b === 'VLF'"}], "mark": {"type": "area", "color": "#c3c3c3", "interpolate": "monotone"},
             "encoding": {"x": {"field": "f", "type": "quantitative", "scale": {"domain": [0, 0.458], "nice": false, "zero": false}, "axis": {"orient": "bottom", "values": [0.0294,0.0588,0.0882,0.1176,0.147,0.1764,0.2058,0.2352,0.2646,0.294,0.3234,0.3528,0.3822,0.4116,0.441], "grid": true, "gridColor": "#e6e6e6", "labels": false, "ticks": false, "domain": false, "title": null}},
                          "y": {"field": "v", "type": "quantitative", "scale": {"domain": [0, 55], "nice": false}, "axis": {"orient": "left", "values": [1.375,5.5,9.625,13.75,17.875,22,26.125,30.25,34.375,38.5,42.625,46.75,50.875], "grid": true, "gridColor": "#e6e6e6", "labels": false, "ticks": false, "domain": false, "title": null}}}},
            {"transform": [{"filter": "datum.b === 'LF'"}], "mark": {"type": "area", "color": "#000000", "interpolate": "monotone"},
             "encoding": {"x": {"field": "f", "type": "quantitative", "scale": {"domain": [0, 0.458], "nice": false, "zero": false}, "axis": {"orient": "bottom", "values": [0,0.05,0.1,0.15,0.2,0.25,0.3,0.35,0.4,0.45], "labelExpr": "replace(format(datum.value, '.2f'), '.', ',')", "title": null, "grid": false, "domainColor": "#333333", "tickSize": 3, "tickColor": "#333333", "labelPadding": 3, "labelFontSize": 12, "labelColor": "#1e1e1e", "labelFlush": false, "labelOverlap": false}},
                          "y": {"field": "v", "type": "quantitative", "scale": {"domain": [0, 55], "nice": false}, "axis": {"orient": "left", "values": [10,20,30,40,50], "title": "x10³", "titleAngle": 0, "titleAlign": "left", "titleBaseline": "alphabetic", "titleX": -26, "titleY": 5, "titleFontSize": 11, "titleFontWeight": "normal", "titleColor": "#1e1e1e", "grid": false, "domainColor": "#333333", "tickSize": 3, "tickColor": "#333333", "labelPadding": 2, "labelFontSize": 12, "labelColor": "#1e1e1e"}}}},
            {"transform": [{"filter": "datum.b === 'HF'"}], "mark": {"type": "area", "color": "#ffffff", "interpolate": "monotone"},
             "encoding": {"x": {"field": "f", "type": "quantitative", "scale": {"domain": [0, 0.458], "nice": false, "zero": false}, "axis": null},
                          "y": {"field": "v", "type": "quantitative", "scale": {"domain": [0, 55], "nice": false}, "axis": null}}},
            {"transform": [{"filter": "datum.b === 'HF'"}], "mark": {"type": "line", "color": "#2a2a2a", "strokeWidth": 1.4, "interpolate": "monotone"},
             "encoding": {"x": {"field": "f", "type": "quantitative", "scale": {"domain": [0, 0.458], "nice": false, "zero": false}, "axis": null},
                          "y": {"field": "v", "type": "quantitative", "scale": {"domain": [0, 55], "nice": false}, "axis": null}}},
            {"data": {"name": "lab"}, "transform": [{"filter": "datum.p === '3b' && datum.k === 'band'"}], "mark": {"type": "text", "font": "Liberation Serif", "fontWeight": "bold", "fontSize": 22, "color": "#151515", "align": "center", "baseline": "middle"},
             "encoding": {"x": {"field": "x", "type": "quantitative", "scale": {"domain": [0, 0.458], "nice": false, "zero": false}, "axis": null}, "y": {"field": "y", "type": "quantitative", "scale": {"domain": [0, 55], "nice": false}, "axis": null}, "text": {"field": "t"}}},
            {"data": {"name": "lab"}, "transform": [{"filter": "datum.p === '3b' && datum.k === 'id'"}], "mark": {"type": "point", "shape": "circle", "size": 620, "filled": true, "fill": "#ffffff", "stroke": "#151515", "strokeWidth": 1.5, "opacity": 1},
             "encoding": {"x": {"field": "x", "type": "quantitative", "scale": {"domain": [0, 0.458], "nice": false, "zero": false}, "axis": null}, "y": {"field": "y", "type": "quantitative", "scale": {"domain": [0, 55], "nice": false}, "axis": null}}},
            {"data": {"name": "lab"}, "transform": [{"filter": "datum.p === '3b' && datum.k === 'id'"}], "mark": {"type": "text", "font": "Liberation Serif", "fontWeight": "bold", "fontSize": 15, "color": "#151515", "align": "center", "baseline": "middle"},
             "encoding": {"x": {"field": "x", "type": "quantitative", "scale": {"domain": [0, 0.458], "nice": false, "zero": false}, "axis": null}, "y": {"field": "y", "type": "quantitative", "scale": {"domain": [0, 55], "nice": false}, "axis": null}, "text": {"field": "t"}}}
          ]
        }
      ],
      "spacing": 23, "bounds": "flush"
    }
  ]
}
